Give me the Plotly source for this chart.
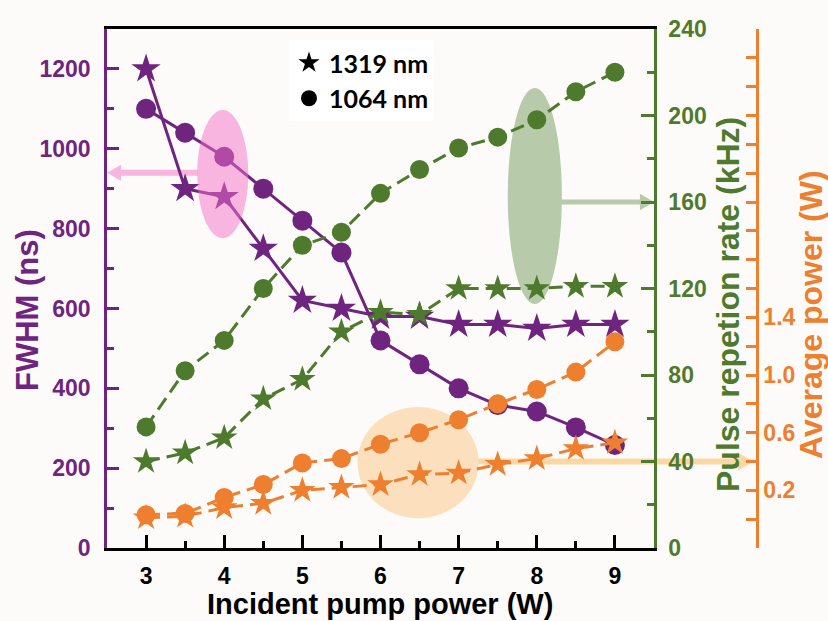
import plotly.graph_objects as go

# ---------------- data ----------------
pump_power = [3, 3.5, 4, 4.5, 5, 5.5, 6, 6.5, 7, 7.5, 8, 8.5, 9]

fwhm_1319 = [1200, 900, 880, 750, 620, 600, 580, 580, 560, 560, 550, 560, 560]
fwhm_1064 = [1100, 1040, 980, 900, 820, 740, 520, 460, 400, 358, 342, 302, 258]

prr_1319 = [40, 44, 51, 69, 78, 100, 109, 108, 120, 120, 120, 121, 121]
prr_1064 = [56, 82, 96, 120, 140, 146, 164, 175, 185, 190, 198, 211, 220]

pow_1319 = [0.01, 0.02, 0.08, 0.11, 0.20, 0.22, 0.24, 0.31, 0.32, 0.38, 0.42, 0.49, 0.53]
pow_1064 = [0.03, 0.04, 0.15, 0.24, 0.39, 0.42, 0.52, 0.60, 0.69, 0.80, 0.90, 1.02, 1.23]

x_ticks = [3, 4, 5, 6, 7, 8, 9]
fwhm_ticks = [0, 200, 400, 600, 800, 1000, 1200]
prr_ticks = [0, 40, 80, 120, 160, 200, 240]
pow_tickvals = [round(-0.2 + 0.2 * i, 1) for i in range(19)]
pow_ticklabels = {0.2: "0.2", 0.6: "0.6", 1.0: "1.0", 1.4: "1.4"}
pow_ticktext = [pow_ticklabels.get(v, "") for v in pow_tickvals]

legend_names = ["1319 nm", "1064 nm"]
x_title = "Incident pump power (W)"
fwhm_title = "FWHM (ns)"
prr_title = "Pulse repetion rate (kHz)"
pow_title = "Average power (W)"

# ---------------- style ----------------
PURPLE = "#6f2480"
GREEN = "#4e7a2d"
ORANGE = "#ee7f2f"
BG = "#fcfbf9"
W, H = 828, 621
L, R, T, B = 107, 40, 29, 73
PW = W - L - R
PH = H - T - B
X_END = (654 - L) / PW
Y3_POS = (757 - L) / PW
FONT = "Arial"


def px2paper(px):
    return (px - L) / PW


def py2paper(py):
    return (H - B - py) / PH


fig = go.Figure()

# purple (left axis)
fig.add_trace(go.Scatter(x=pump_power, y=fwhm_1319, mode="lines+markers", yaxis="y",
                         line=dict(color=PURPLE, width=3),
                         marker=dict(symbol="star", size=22, color=PURPLE),
                         showlegend=False))
fig.add_trace(go.Scatter(x=pump_power, y=fwhm_1064, mode="lines+markers", yaxis="y",
                         line=dict(color=PURPLE, width=3),
                         marker=dict(symbol="circle", size=20, color=PURPLE),
                         showlegend=False))
# green (PRR)
fig.add_trace(go.Scatter(x=pump_power, y=prr_1064, mode="lines+markers", yaxis="y2",
                         line=dict(color=GREEN, width=3, dash="14px,7px"),
                         marker=dict(symbol="circle", size=19, color=GREEN),
                         showlegend=False))
fig.add_trace(go.Scatter(x=pump_power, y=prr_1319, mode="lines+markers", yaxis="y2",
                         line=dict(color=GREEN, width=3, dash="14px,7px"),
                         marker=dict(symbol="star", size=20, color=GREEN),
                         showlegend=False))
# orange (average power)
fig.add_trace(go.Scatter(x=pump_power, y=pow_1319, mode="lines+markers", yaxis="y3",
                         line=dict(color=ORANGE, width=3, dash="14px,7px"),
                         marker=dict(symbol="star", size=20, color=ORANGE),
                         showlegend=False))
fig.add_trace(go.Scatter(x=pump_power, y=pow_1064, mode="lines+markers", yaxis="y3",
                         line=dict(color=ORANGE, width=3, dash="14px,7px"),
                         marker=dict(symbol="circle", size=19, color=ORANGE),
                         showlegend=False))

# legend entries (black symbols)
fig.add_trace(go.Scatter(x=[None], y=[None], mode="markers", name=legend_names[0],
                         marker=dict(symbol="star", size=20, color="black")))
fig.add_trace(go.Scatter(x=[None], y=[None], mode="markers", name=legend_names[1],
                         marker=dict(symbol="circle", size=18, color="black")))

shapes = [
    # pink ellipse (above traces, translucent)
    dict(type="circle", xref="x", yref="y", x0=3.654, x1=4.308, y0=776, y1=1097,
         fillcolor="rgba(244,112,199,0.5)", line=dict(width=0), layer="above"),
    # pink arrow
    dict(type="line", xref="x", yref="y", x0=3.66, x1=2.66, y0=940, y1=940,
         line=dict(color="#f8b5e0", width=6), layer="below"),
    dict(type="path", xref="x", yref="y", path="M 2.5,940 L 2.68,960 L 2.68,920 Z",
         fillcolor="#f8b5e0", line=dict(width=0), layer="below"),
    # green ellipse
    dict(type="circle", xref="x", yref="y2", x0=7.628, x1=8.321, y0=112.8, y1=212.7,
         fillcolor="#b7cbab", line=dict(width=0), layer="below"),
    # green arrow
    dict(type="line", xref="x", yref="y2", x0=8.3, x1=9.35, y0=160, y1=160,
         line=dict(color="#b7cbab", width=5), layer="below"),
    dict(type="path", xref="x", yref="y2", path="M 9.5,160 L 9.32,163.8 L 9.32,156.2 Z",
         fillcolor="#b7cbab", line=dict(width=0), layer="below"),
    # orange circle
    dict(type="circle", xref="x", yref="y3", x0=5.705, x1=7.256, y0=0.007, y1=0.778,
         fillcolor="#fce0bd", line=dict(width=0), layer="below"),
    # orange arrow
    dict(type="line", xref="paper", yref="y3", x0=px2paper(476), x1=px2paper(742), y0=0.4, y1=0.4,
         line=dict(color="#fbd7a3", width=6), layer="below"),
    dict(type="path", xref="paper", yref="y3",
         path=f"M {px2paper(754)},0.4 L {px2paper(738)},0.46 L {px2paper(738)},0.34 Z",
         fillcolor="#fbd7a3", line=dict(width=0), layer="below"),
]

tickfont = lambda c: dict(family=FONT, size=23, color=c, weight=700)
titlefont = lambda c, s: dict(family=FONT, size=s, color=c, weight=700)

annotations = [
    dict(text=x_title, xref="paper", yref="paper", x=px2paper(380), y=py2paper(604),
         xanchor="center", yanchor="middle", showarrow=False, font=titlefont("black", 29)),
    dict(text=fwhm_title, xref="paper", yref="paper", x=px2paper(27), y=py2paper(310),
         xanchor="center", yanchor="middle", showarrow=False, textangle=-90,
         font=titlefont(PURPLE, 31)),
    dict(text=prr_title, xref="paper", yref="paper", x=px2paper(728), y=py2paper(305),
         xanchor="center", yanchor="middle", showarrow=False, textangle=-90,
         font=titlefont(GREEN, 32)),
    dict(text=pow_title, xref="paper", yref="paper", x=px2paper(811), y=py2paper(315),
         xanchor="center", yanchor="middle", showarrow=False, textangle=-90,
         font=titlefont(ORANGE, 32)),
]

fig.update_layout(
    width=W, height=H,
    margin=dict(l=L, r=R, t=T, b=B, autoexpand=False),
    paper_bgcolor=BG, plot_bgcolor=BG,
    shapes=shapes,
    annotations=annotations,
    showlegend=True,
    legend=dict(x=px2paper(289), y=py2paper(40), xanchor="left", yanchor="top",
                bgcolor="white", borderwidth=0,
                font=dict(family="Lato", size=25, color="black", weight=700),
                itemwidth=30, tracegroupgap=0),
    xaxis=dict(domain=[0, X_END], range=[2.5, 9.5], tickvals=x_ticks,
               ticks="inside", ticklen=13, tickwidth=2.5, tickcolor="black",
               minor=dict(dtick=0.5, tick0=2.5, ticks="inside", ticklen=7, tickwidth=2.5, tickcolor="black"),
               showline=True, linecolor="black", linewidth=2.5, mirror=True,
               showgrid=False, zeroline=False,
               tickfont=tickfont("black"), ticklabelstandoff=6),
    yaxis=dict(range=[0, 1300], tickvals=fwhm_ticks,
               ticks="inside", ticklen=12, tickwidth=2.5, tickcolor=PURPLE,
               minor=dict(dtick=100, ticks="inside", ticklen=7, tickwidth=2.5, tickcolor=PURPLE),
               showline=True, linecolor=PURPLE, linewidth=2.5,
               showgrid=False, zeroline=False,
               tickfont=tickfont(PURPLE), ticklabelstandoff=9),
    yaxis2=dict(overlaying="y", side="right", anchor="x", range=[0, 240], tickvals=prr_ticks,
                ticks="inside", ticklen=13, tickwidth=2.5, tickcolor=GREEN,
                minor=dict(dtick=20, ticks="inside", ticklen=7, tickwidth=2.5, tickcolor=GREEN),
                showline=True, linecolor=GREEN, linewidth=2.5,
                showgrid=False, zeroline=False,
                tickfont=tickfont(GREEN), ticklabelstandoff=7),
    yaxis3=dict(overlaying="y", side="right", anchor="free", position=Y3_POS,
                range=[-0.2, 3.4], tickvals=pow_tickvals, ticktext=pow_ticktext,
                ticks="inside", ticklen=10, tickwidth=2.5, tickcolor=ORANGE,
                showline=True, linecolor=ORANGE, linewidth=2.5,
                showgrid=False, zeroline=False,
                tickfont=tickfont(ORANGE), ticklabelstandoff=0),
)

fig.write_html("out.html", config={"displayModeBar": False},
               post_script="document.body.style.margin='0px';")
